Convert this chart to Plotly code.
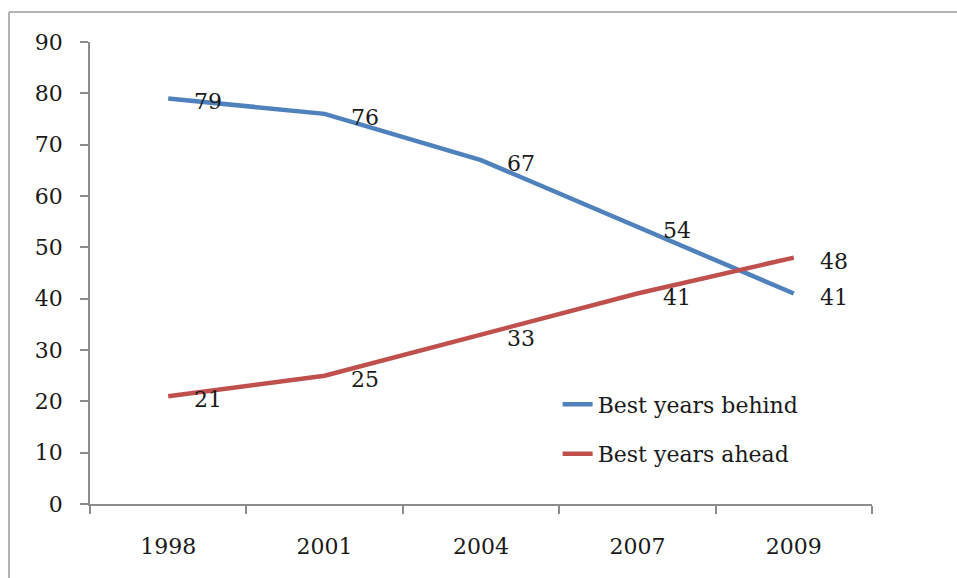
import plotly.graph_objects as go

years = ["1998", "2001", "2004", "2007", "2009"]
behind = [79, 76, 67, 54, 41]
ahead = [21, 25, 33, 41, 48]
series_names = ["Best years behind", "Best years ahead"]
y_ticks = [0, 10, 20, 30, 40, 50, 60, 70, 80, 90]

BLUE = "#4F81BD"
RED = "#C0504D"
FONT = "DejaVu Serif"
TEXT = "#1a1a1a"
AXIS = "#8c8c8c"

fig = go.Figure()
for name, vals, color in [(series_names[0], behind, BLUE), (series_names[1], ahead, RED)]:
    fig.add_trace(go.Scatter(
        x=years, y=vals, name=name, mode="lines",
        line=dict(color=color, width=4.5, shape="linear"),
        legendgroup=name, hoverinfo="x+y",
    ))
    # value labels to the right of each point (x given as category index)
    for i, yv in enumerate(vals):
        fig.add_annotation(
            x=i, y=yv, xref="x", yref="y", text=str(yv), showarrow=False,
            xanchor="left", yanchor="middle", xshift=24, yshift=-3.5,
            font=dict(family=FONT, size=22, color=TEXT),
        )

# chart frame (top and left edges)
fig.add_shape(type="line", xref="paper", yref="paper",
              x0=(9 - 90) / 782, x1=(957 - 90) / 782 + 0.01, y0=(504 - 12) / 462, y1=(504 - 12) / 462,
              line=dict(color="#b3b3b3", width=2))
fig.add_shape(type="line", xref="paper", yref="paper",
              x0=(9 - 90) / 782, x1=(9 - 90) / 782, y0=(504 - 12) / 462, y1=-0.2,
              line=dict(color="#b3b3b3", width=2))

fig.update_layout(
    width=957, height=578,
    margin=dict(l=90, r=85, t=42, b=74),
    paper_bgcolor="white", plot_bgcolor="white",
    font=dict(family=FONT, size=22, color=TEXT),
    showlegend=True,
    legend=dict(
        x=0.598, y=0.261, xanchor="left", yanchor="top",
        bgcolor="rgba(0,0,0,0)", traceorder="grouped", tracegroupgap=18,
        font=dict(family=FONT, size=22, color=TEXT),
    ),
    xaxis=dict(
        type="category", range=[-0.5, 4.5], tickson="boundaries",
        showline=True, linecolor=AXIS, linewidth=1.5,
        ticks="outside", ticklen=8, tickwidth=1.5, tickcolor=AXIS,
        showgrid=False, zeroline=False, ticklabelstandoff=22,
        tickfont=dict(family=FONT, size=22, color=TEXT),
    ),
    yaxis=dict(
        range=[0, 90], tickvals=y_ticks,
        showline=True, linecolor=AXIS, linewidth=1.5,
        ticks="outside", ticklen=8, tickwidth=1.5, tickcolor=AXIS,
        showgrid=False, zeroline=False, ticklabelstandoff=13,
        tickfont=dict(family=FONT, size=22, color=TEXT),
    ),
)

fig.write_html("out.html")
